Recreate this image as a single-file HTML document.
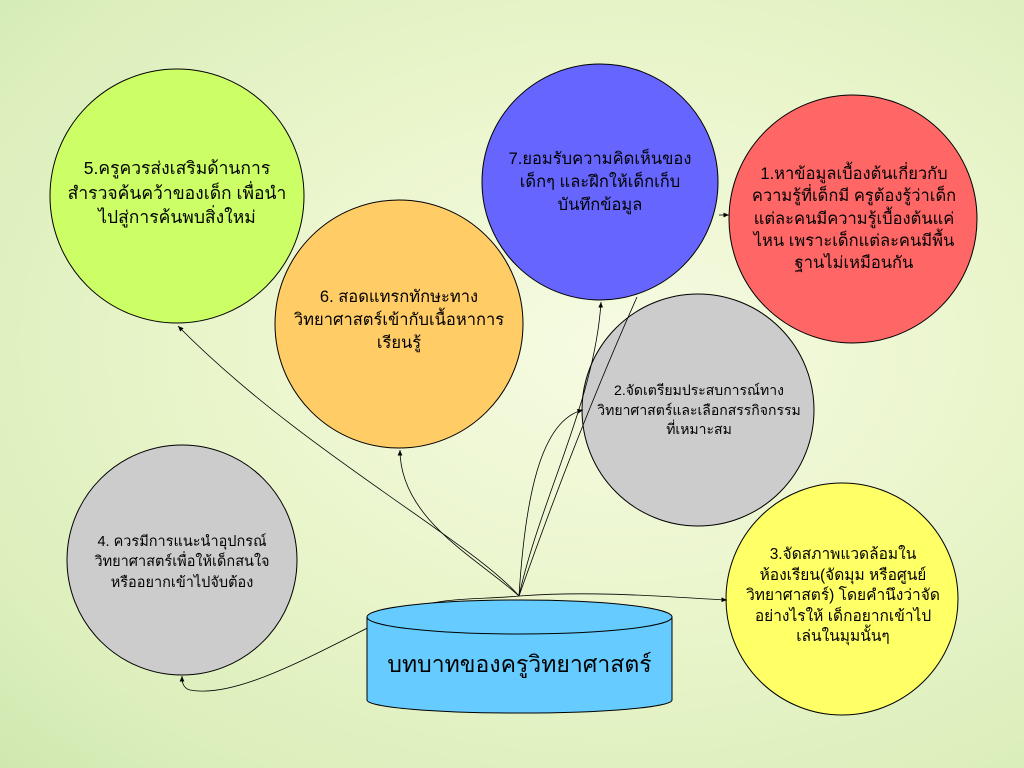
<!DOCTYPE html>
<html><head><meta charset="utf-8"><style>
html,body{margin:0;padding:0;width:1024px;height:768px;overflow:hidden}
body{background:radial-gradient(ellipse at 60% 45%,#f6fbe2 0%,#eaf5cc 45%,#dcefbc 80%,#d0e8b0 100%);font-family:"Liberation Sans","DejaVu Sans",sans-serif}
svg{position:absolute;left:0;top:0}
.t{position:absolute;text-align:center;color:#000;font-family:"Liberation Sans","DejaVu Sans",sans-serif;line-height:1.4}
</style></head><body>
<svg width="1024" height="768">
<defs><marker id="a" markerWidth="8" markerHeight="8" refX="7" refY="3" orient="auto"><path d="M0,0L7,3L0,6z" fill="#000"/></marker></defs>
<path d="M519,596 C480,600 440,596 400,612 C330,645 240,700 190,690 C182,688 182,680 182,676" stroke="#000" stroke-width="0.8" fill="none" marker-end="url(#a)"/>
<g stroke="#000" stroke-width="1">
<circle cx="177" cy="196" r="127" fill="#ccff66"/>
<circle cx="600" cy="182" r="118" fill="#6666ff"/>
<circle cx="853" cy="219" r="124" fill="#ff6666"/>
<circle cx="399" cy="324" r="124" fill="#ffcc66"/>
<circle cx="698" cy="410" r="116" fill="#cccccc"/>
<circle cx="182" cy="560" r="115" fill="#cccccc"/>
<circle cx="842" cy="599" r="116" fill="#ffff66"/>
<path d="M367,617 L367,700 A152,13 0 0 0 672,700 L672,617 Z" fill="#66ccff"/>
<ellipse cx="519.5" cy="617" rx="152.5" ry="17" fill="#66ccff"/>
</g>
<g stroke="#000" stroke-width="0.8" fill="none" marker-end="url(#a)">
<path d="M519,596 C470,540 300,450 178,326"/>
<path d="M519,596 C480,560 400,520 400,450"/>
<path d="M519,596 C525,500 540,420 583,410"/>
<path d="M519,596 C540,500 595,400 601,302"/>
<path d="M519,596 C600,590 680,598 727,600"/>
<path d="M719,215 L729,215"/>
</g>
<path d="M519,596 C560,480 600,380 637,297" stroke="#000" stroke-width="0.8" fill="none"/>
</svg>
<div class="t" style="left:52px;top:156px;width:250px;font-size:17.5px">5.ครูควรส่งเสริมด้านการ<br>สำรวจค้นคว้าของเด็ก เพื่อนำ<br>ไปสู่การค้นพบสิ่งใหม่</div>
<div class="t" style="left:486px;top:148px;width:228px;font-size:16.5px">7.ยอมรับความคิดเห็นของ<br>เด็กๆ และฝึกให้เด็กเก็บ<br>บันทึกข้อมูล</div>
<div class="t" style="left:730px;top:163px;width:248px;font-size:16.5px;line-height:1.35">1.หาข้อมูลเบื้องต้นเกี่ยวกับ<br>ความรู้ที่เด็กมี ครูต้องรู้ว่าเด็ก<br>แต่ละคนมีความรู้เบื้องต้นแค่<br>ไหน เพราะเด็กแต่ละคนมีพื้น<br>ฐานไม่เหมือนกัน</div>
<div class="t" style="left:276px;top:286px;width:246px;font-size:16.5px">6. สอดแทรกทักษะทาง<br>วิทยาศาสตร์เข้ากับเนื้อหาการ<br>เรียนรู้</div>
<div class="t" style="left:580px;top:381px;width:238px;font-size:14px">2.จัดเตรียมประสบการณ์ทาง<br>วิทยาศาสตร์และเลือกสรรกิจกรรม<br>ที่เหมาะสม</div>
<div class="t" style="left:66px;top:532px;width:232px;font-size:14.5px">4. ควรมีการแนะนำอุปกรณ์<br>วิทยาศาสตร์เพื่อให้เด็กสนใจ<br>หรืออยากเข้าไปจับต้อง</div>
<div class="t" style="left:726px;top:545px;width:234px;font-size:15.5px;line-height:1.33">3.จัดสภาพแวดล้อมใน<br>ห้องเรียน(จัดมุม หรือศูนย์<br>วิทยาศาสตร์) โดยคำนึงว่าจัด<br>อย่างไรให้ เด็กอยากเข้าไป<br>เล่นในมุมนั้นๆ</div>
<div class="t" style="left:367px;top:648px;width:305px;font-size:23px">บทบาทของครูวิทยาศาสตร์</div>
</body></html>
